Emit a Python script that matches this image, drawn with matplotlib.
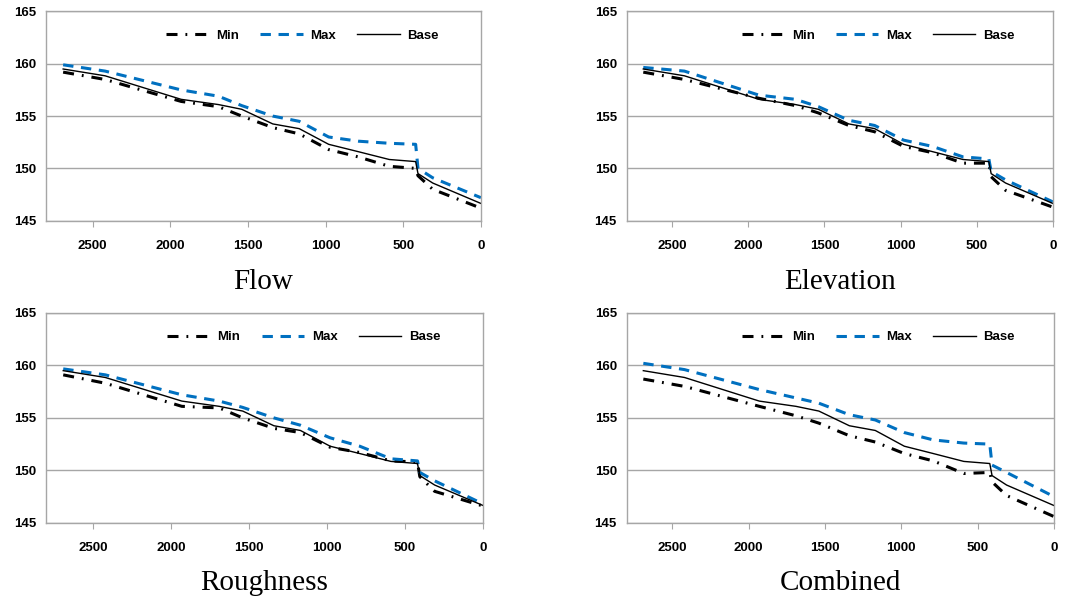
import matplotlib.pyplot as plt

# stations (distance, reversed axis) shared by all series
station = [2690, 2420, 1930, 1690, 1540, 1340, 1170, 980, 790, 590, 420, 405, 310, 0]

base = [159.5, 158.85, 156.6, 156.1, 155.65, 154.25, 153.8, 152.3, 151.6, 150.85, 150.65, 149.5, 148.6, 146.65]

flow_max = [159.9, 159.3, 157.5, 156.9, 156.0, 155.0, 154.5, 153.0, 152.6, 152.4, 152.3, 150.0, 149.1, 147.2]
flow_min = [159.2, 158.5, 156.4, 155.9, 155.0, 153.9, 153.3, 151.8, 151.1, 150.2, 150.0, 149.3, 148.0, 146.2]

elev_max = [159.65, 159.3, 157.0, 156.6, 155.9, 154.6, 154.1, 152.7, 152.1, 151.1, 150.9, 149.7, 148.9, 146.8]
elev_min = [159.2, 158.5, 156.7, 156.0, 155.3, 154.1, 153.5, 152.1, 151.5, 150.5, 150.5, 149.2, 147.9, 146.3]

rough_max = [159.67, 159.1, 157.2, 156.6, 156.0, 155.0, 154.3, 153.1, 152.3, 151.1, 150.9, 149.8, 149.0, 146.8]
rough_min = [159.1, 158.3, 156.1, 155.95, 155.0, 154.0, 153.6, 152.2, 151.7, 150.9, 150.8, 149.4, 148.0, 146.6]

comb_max = [160.2, 159.6, 157.7, 156.9, 156.4, 155.3, 154.8, 153.6, 152.9, 152.6, 152.5, 150.5, 149.8, 147.5]
comb_min = [158.7, 158.0, 156.1, 155.2, 154.5, 153.3, 152.7, 151.6, 150.9, 149.7, 149.8, 148.9, 147.6, 145.6]

panels = [
    ('Flow', flow_min, flow_max),
    ('Elevation', elev_min, elev_max),
    ('Roughness', rough_min, rough_max),
    ('Combined', comb_min, comb_max),
]

xticks = [2500, 2000, 1500, 1000, 500, 0]
yticks = [145, 150, 155, 160, 165]

grey = '#a6a6a6'
blue = '#0070c0'

fig = plt.figure(figsize=(10.71, 6.03), dpi=100)

# axes rectangles in figure fractions
rects = [
    [0.043, 0.634, 0.406, 0.347],
    [0.585, 0.634, 0.398, 0.347],
    [0.043, 0.133, 0.408, 0.348],
    [0.585, 0.133, 0.399, 0.348],
]
title_y = [0.532, 0.532, 0.033, 0.033]

for (name, mn, mx), r, ty in zip(panels, rects, title_y):
    ax = fig.add_axes(r)
    ax.plot(station, mn, color='black', lw=2.2, linestyle=(0, (3.6, 2.6, 0.6, 2.6)), label='Min')
    ax.plot(station, mx, color=blue, lw=2.2, linestyle=(0, (3.4, 2.5)), label='Max')
    ax.plot(station, base, color='black', lw=1.0, label='Base')

    ax.set_xlim(2800, 0)
    ax.set_ylim(145, 165)
    ax.set_xticks(xticks)
    ax.set_yticks(yticks)
    ax.grid(axis='y', color=grey, lw=1.0)
    ax.set_axisbelow(True)
    for s in ax.spines.values():
        s.set_color(grey)
        s.set_linewidth(1.0)
    ax.tick_params(axis='x', length=4, color=grey, pad=10)
    ax.tick_params(axis='y', length=0, pad=7)
    for lab in ax.get_xticklabels() + ax.get_yticklabels():
        lab.set_fontfamily('Liberation Sans')
        lab.set_fontweight('bold')
        lab.set_fontsize(9.5)

    ax.legend(loc='center', bbox_to_anchor=(0.59, 0.885), ncol=3, frameon=False,
              handlelength=3.2, columnspacing=1.6, handletextpad=0.6,
              prop={'family': 'Liberation Sans', 'weight': 'bold', 'size': 9.5})

    cx = r[0] + r[2] / 2
    fig.text(cx, ty, name, ha='center', va='center', fontsize=21, family='Liberation Serif')

fig.savefig('out.png', dpi=100)
